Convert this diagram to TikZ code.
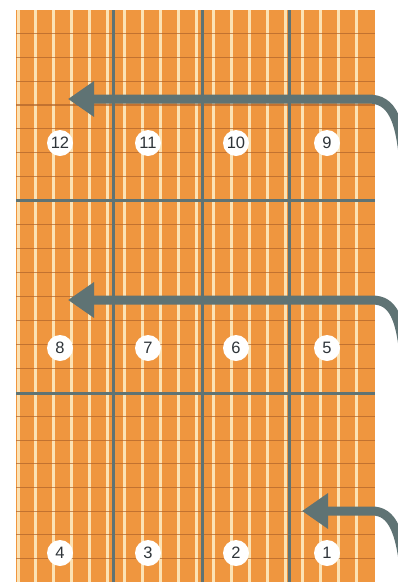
\documentclass[tikz,border=0pt]{standalone}
\usepackage{fontspec}
\setmainfont{Liberation Sans}
\usetikzlibrary{arrows.meta}
\definecolor{tileorange}{HTML}{EF963F}
\definecolor{stripe}{HTML}{FCE2B4}
\definecolor{joint}{HTML}{B0642A}
\definecolor{slate}{HTML}{5F7374}
\definecolor{numtext}{HTML}{2E3439}
\begin{document}
\begin{tikzpicture}[x=1pt,y=-1pt,
  numlabel/.style={circle,fill=white,minimum size=26pt,inner sep=0pt,
    font=\fontsize{16.5}{16.5}\selectfont,text=numtext},
  flow/.style={draw=slate,line width=9pt,-{Triangle[length=26pt,width=34pt]}},
  divider/.style={draw=slate,line width=3pt},
  jointline/.style={draw=joint,line width=1.2pt,opacity=0.7},
  stripefill/.style={fill=stripe}]
\useasboundingbox (0,0) rectangle (398,582);
\clip (0,0) rectangle (398,582);
% tile field
\fill[tileorange] (16,10) rectangle (375,582);
% light vertical stripes
\foreach \k in {0,...,19}{
  \pgfmathsetmacro{\sx}{18+17.8*\k}
  \fill[stripefill] ({\sx-1.5},10) rectangle ({\sx+1.5},582);
}
% thin horizontal joints
\foreach \ta/\tb in {10/200,200/393,393/582}{
  \foreach \k in {1,...,7}{
    \pgfmathsetmacro{\sy}{\ta+(\tb-\ta)*\k/8}
    \draw[jointline] (16,\sy) -- (375,\sy);
  }
}
% block dividers
\draw[divider] (113,10) -- (113,582);
\draw[divider] (202,10) -- (202,582);
\draw[divider] (289,10) -- (289,582);
\draw[divider] (16,200) -- (375,200);
\draw[divider] (16,393) -- (375,393);
% numbers
\node[numlabel] (n12) at (60,143) {12};
\node[numlabel] (n11) at (148,143) {11};
\node[numlabel] (n10) at (236,143) {10};
\node[numlabel] (n9) at (327,143) {9};
\node[numlabel] (n8) at (60,348) {8};
\node[numlabel] (n7) at (148,348) {7};
\node[numlabel] (n6) at (236,348) {6};
\node[numlabel] (n5) at (327,348) {5};
\node[numlabel] (n4) at (60,553) {4};
\node[numlabel] (n3) at (148,553) {3};
\node[numlabel] (n2) at (236,553) {2};
\node[numlabel] (n1) at (327,553) {1};
% arrows
\coordinate (s1) at (405,180);
\coordinate (c1) at (368,99);
\coordinate (t1) at (68,99);
\coordinate (s2) at (405,370);
\coordinate (c2) at (372,300);
\coordinate (t2) at (68,300);
\coordinate (s3) at (406,595);
\coordinate (c3) at (372,511);
\coordinate (t3) at (302,511);
\draw[flow] (s1) .. controls (402,118) and (392,99) .. (c1) -- (t1);
\draw[flow] (s2) .. controls (402,315) and (392,300) .. (c2) -- (t2);
\draw[flow] (s3) .. controls (403,530) and (392,511) .. (c3) -- (t3);
\end{tikzpicture}
\end{document}
